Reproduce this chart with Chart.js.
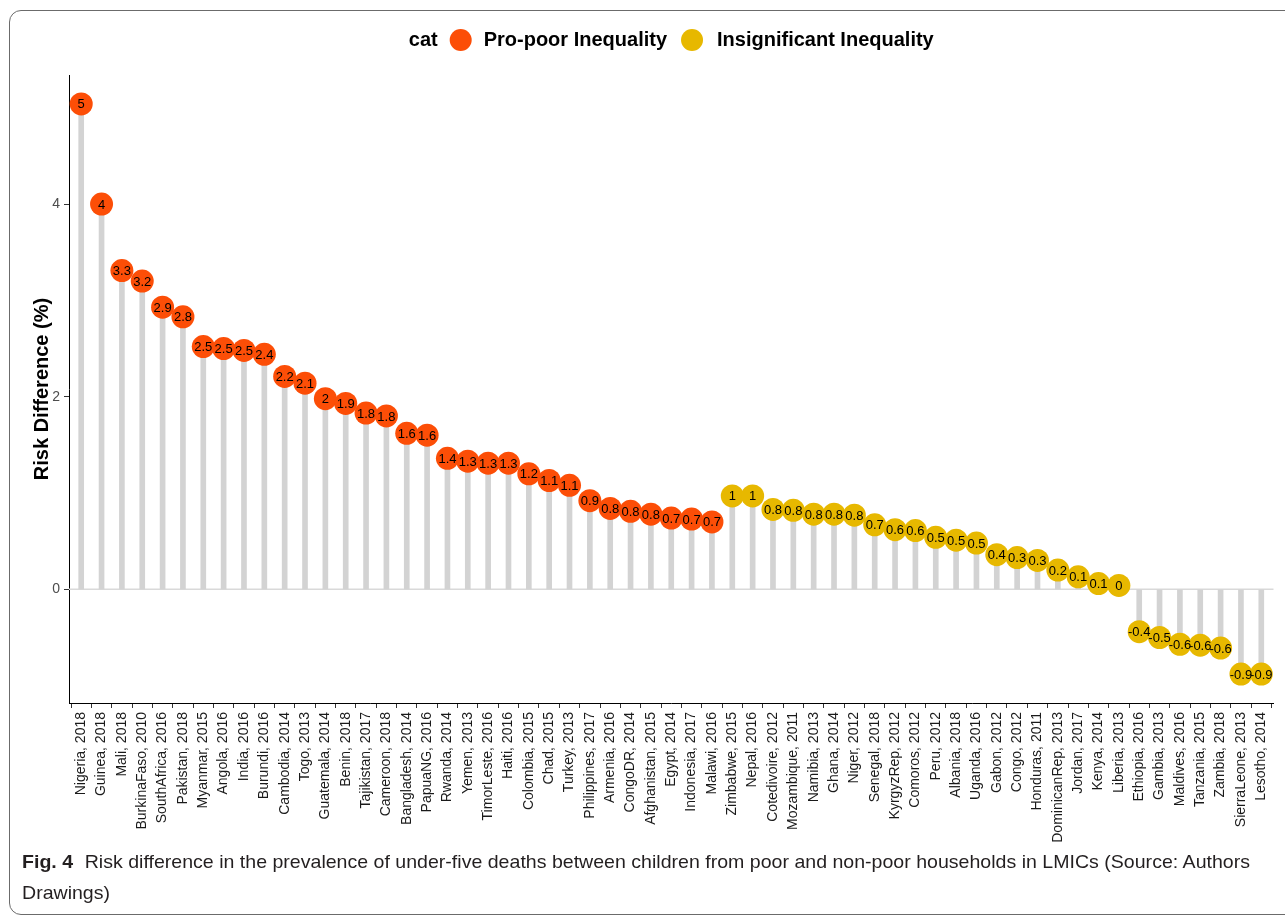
<!DOCTYPE html>
<html>
<head>
<meta charset="utf-8">
<script src="https://cdn.jsdelivr.net/npm/chart.js@4.4.0/dist/chart.umd.min.js"></script>
<style>
  html, body { margin: 0; padding: 0; background: #fff; }
  body { width: 1285px; height: 923px; position: relative; overflow: hidden; font-family: "Liberation Sans", Arial, sans-serif; }
  #frame { position: absolute; left: 9px; top: 10px; width: 1295px; height: 905px; border: 1.5px solid #6b6b6b; border-radius: 12px; box-sizing: border-box; }
  #wrap { position: absolute; left: 0; top: 0; width: 1285px; height: 850px; }
  #caption { position: absolute; left: 22px; top: 846px; font-family: "Liberation Sans Narrow", "Liberation Sans", sans-serif; font-size: 19px; color: #231f20; line-height: 31px; white-space: nowrap; transform-origin: 0 0; }
  #caption b { font-weight: bold; margin-right: 6px; }
</style>
</head>
<body>
<div id="frame"></div>
<div id="wrap"><canvas id="lollipop"></canvas></div>
<div id="caption"><span id="line1"><b>Fig. 4</b> Risk difference in the prevalence of under-five deaths between children from poor and non-poor households in LMICs (Source: Authors</span><br>Drawings)</div>

<script>
// pays et année d'enquête, dans l'ordre du graphique
const countries = [
  "Nigeria, 2018", "Guinea, 2018", "Mali, 2018", "BurkinaFaso, 2010", "SouthAfrica, 2016",
  "Pakistan, 2018", "Myanmar, 2015", "Angola, 2016", "India, 2016", "Burundi, 2016",
  "Cambodia, 2014", "Togo, 2013", "Guatemala, 2014", "Benin, 2018", "Tajikistan, 2017",
  "Cameroon, 2018", "Bangladesh, 2014", "PapuaNG, 2016", "Rwanda, 2014", "Yemen, 2013",
  "TimorLeste, 2016", "Haiti, 2016", "Colombia, 2015", "Chad, 2015", "Turkey, 2013",
  "Philippines, 2017", "Armenia, 2016", "CongoDR, 2014", "Afghanistan, 2015", "Egypt, 2014",
  "Indonesia, 2017", "Malawi, 2016", "Zimbabwe, 2015", "Nepal, 2016", "Cotedivoire, 2012",
  "Mozambique, 2011", "Namibia, 2013", "Ghana, 2014", "Niger, 2012", "Senegal, 2018",
  "KyrgyzRep, 2012", "Comoros, 2012", "Peru, 2012", "Albania, 2018", "Uganda, 2016",
  "Gabon, 2012", "Congo, 2012", "Honduras, 2011", "DominicanRep, 2013", "Jordan, 2017",
  "Kenya, 2014", "Liberia, 2013", "Ethiopia, 2016", "Gambia, 2013", "Maldives, 2016",
  "Tanzania, 2015", "Zambia, 2018", "SierraLeone, 2013", "Lesotho, 2014"
];

// différence de risque (%)
const riskDiff = [
  5.04, 4.0, 3.31, 3.2, 2.93,
  2.83, 2.52, 2.5, 2.48, 2.44,
  2.21, 2.14, 1.98, 1.93, 1.83,
  1.8, 1.62, 1.6, 1.36, 1.33,
  1.31, 1.31, 1.2, 1.13, 1.08,
  0.92, 0.84, 0.81, 0.78, 0.74,
  0.73, 0.7, 0.97, 0.97, 0.83,
  0.82, 0.78, 0.78, 0.77, 0.67,
  0.62, 0.61, 0.54, 0.51, 0.48,
  0.36, 0.33, 0.3, 0.2, 0.13,
  0.06, 0.04, -0.44, -0.5, -0.57,
  -0.58, -0.61, -0.88, -0.88
];

// 0 = Pro-poor, 1 = Insignificant
const catNames = ["Pro-poor Inequality", "Insignificant Inequality"];
const catColors = ["#FC4E07", "#E7B800"];
const cat = [
  0, 0, 0, 0, 0, 0, 0, 0, 0, 0,
  0, 0, 0, 0, 0, 0, 0, 0, 0, 0,
  0, 0, 0, 0, 0, 0, 0, 0, 0, 0,
  0, 0, 1, 1, 1, 1, 1, 1, 1, 1,
  1, 1, 1, 1, 1, 1, 1, 1, 1, 1,
  1, 1, 1, 1, 1, 1, 1, 1, 1
];

const yTicks = [0, 2, 4];

const FONT = '"Liberation Sans", Arial, sans-serif';

// points par catégorie
function pointsFor(k) {
  const pts = [];
  riskDiff.forEach((v, i) => {
    if (cat[i] === k) pts.push({ x: i, y: v });
  });
  return pts;
}

// ligne horizontale à zéro
const zeroLine = {
  id: "zeroLine",
  beforeDatasetsDraw(chart) {
    const { ctx, chartArea } = chart;
    const y0 = chart.scales.y.getPixelForValue(0);
    ctx.save();
    ctx.strokeStyle = "#d9d9d9";
    ctx.lineWidth = 1.5;
    ctx.beginPath();
    ctx.moveTo(chartArea.left, y0);
    ctx.lineTo(chartArea.right, y0);
    ctx.stroke();
    ctx.restore();
  },
};

// valeurs arrondies écrites dans les cercles
const pointLabels = {
  id: "pointLabels",
  afterDatasetsDraw(chart) {
    const ctx = chart.ctx;
    ctx.save();
    ctx.font = "13px " + FONT;
    ctx.fillStyle = "#000";
    ctx.textAlign = "center";
    ctx.textBaseline = "middle";
    chart.data.datasets.forEach((ds, di) => {
      if (ds.type !== "scatter") return;
      chart.getDatasetMeta(di).data.forEach((el, j) => {
        const v = ds.data[j].y;
        ctx.fillText(String(Number(v.toFixed(1))), el.x, el.y + 1);
      });
    });
    ctx.restore();
  },
};

// légende façon ggplot : "cat" puis les deux catégories
const topLegend = {
  id: "topLegend",
  afterDraw(chart) {
    const ctx = chart.ctx;
    const r = 11;
    const y = 40;
    ctx.save();
    ctx.font = "bold 20px " + FONT;
    ctx.textBaseline = "middle";
    const wCat = ctx.measureText("cat").width;
    const w1 = ctx.measureText(catNames[0]).width;
    const w2 = ctx.measureText(catNames[1]).width;
    const total = wCat + 12 + 2 * r + 12 + w1 + 14 + 2 * r + 14 + w2;
    const mid = (chart.chartArea.left + chart.chartArea.right) / 2;
    let x = mid - total / 2;
    ctx.fillStyle = "#000";
    ctx.fillText("cat", x, y);
    x += wCat + 12;
    [0, 1].forEach((k) => {
      ctx.fillStyle = catColors[k];
      ctx.beginPath();
      ctx.arc(x + r, y, r, 0, Math.PI * 2);
      ctx.fill();
      x += 2 * r + (k === 0 ? 12 : 14);
      ctx.fillStyle = "#000";
      ctx.fillText(catNames[k], x, y);
      x += (k === 0 ? w1 : w2) + 14;
    });
    ctx.restore();
  },
};

new Chart(document.getElementById("lollipop"), {
  type: "scatter",
  data: {
    datasets: [
      {
        type: "scatter",
        label: catNames[0],
        data: pointsFor(0),
        backgroundColor: catColors[0],
        borderWidth: 0,
        pointRadius: 11.5,
        order: 1,
      },
      {
        type: "scatter",
        label: catNames[1],
        data: pointsFor(1),
        backgroundColor: catColors[1],
        borderWidth: 0,
        pointRadius: 11.5,
        order: 2,
      },
      {
        type: "bar",
        label: "stem",
        data: riskDiff.map((v, i) => ({ x: i, y: v })),
        backgroundColor: "#d3d3d3",
        barThickness: 5,
        order: 3,
      },
    ],
  },
  options: {
    responsive: true,
    maintainAspectRatio: false,
    animation: false,
    layout: { padding: { top: 75, right: 10, left: 0, bottom: 0 } },
    plugins: {
      legend: { display: false },
      tooltip: { enabled: false },
    },
    scales: {
      x: {
        type: "linear",
        min: -0.6,
        max: 58.6,
        offset: false,
        afterBuildTicks: (scale) => {
          scale.ticks = countries.map((c, i) => ({ value: i }));
        },
        afterFit: (scale) => {
          scale.height = 147;
        },
        grid: { drawOnChartArea: false, tickLength: 5, tickColor: "#333" },
        border: { display: true, color: "#000", width: 1 },
        ticks: {
          autoSkip: false,
          minRotation: 90,
          maxRotation: 90,
          padding: 4,
          color: "#1a1a1a",
          font: { family: FONT, size: 14 },
          callback: (value) => countries[value],
        },
      },
      y: {
        type: "linear",
        min: -1.18,
        max: 5.34,
        afterBuildTicks: (scale) => {
          scale.ticks = yTicks.map((v) => ({ value: v }));
        },
        afterFit: (scale) => {
          scale.width = 69;
        },
        grid: { drawOnChartArea: false, tickLength: 5, tickColor: "#333" },
        border: { display: true, color: "#000", width: 1 },
        ticks: {
          padding: 4,
          color: "#4d4d4d",
          font: { family: FONT, size: 14 },
        },
        title: {
          display: true,
          text: "Risk Difference (%)",
          color: "#000",
          font: { family: FONT, size: 20, weight: "bold" },
          padding: { top: 30, bottom: 0 },
        },
      },
    },
  },
  plugins: [zeroLine, pointLabels, topLegend],
});

// légende sous la figure : étirée à la largeur de la référence
const cap = document.getElementById("caption");
const w = document.getElementById("line1").getBoundingClientRect().width;
cap.style.transform = "scaleX(" + (1228 / w) + ")";
</script>
</body>
</html>
